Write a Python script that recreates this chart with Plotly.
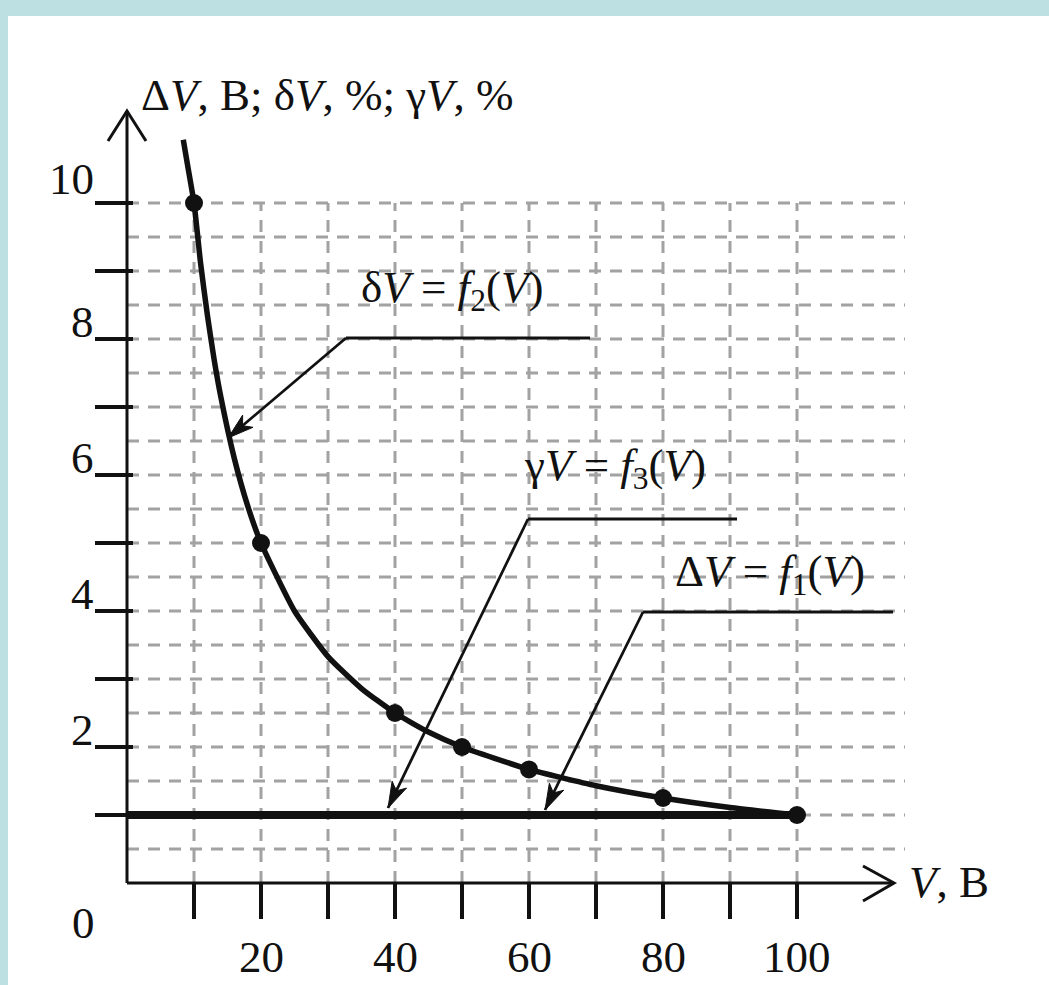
import math
import plotly.graph_objects as go

# ---------------- data ----------------
V_curve = [8.4, 9, 10, 11, 12, 13, 14, 16, 18, 20, 25, 30, 35, 40, 45, 50, 60, 70, 80, 90, 100]
delta_V = [10.93, 10.58, 10.0, 9.1, 8.35, 7.7, 7.15, 6.25, 5.55, 5.0, 4.0, 3.33, 2.86, 2.5,
           2.22, 2.0, 1.67, 1.43, 1.25, 1.11, 1.0]
V_points = [10, 20, 40, 50, 60, 80, 100]
delta_points = [10, 5, 2.5, 2, 1.67, 1.25, 1]
V_const = [0, 100]
abs_dV = [1, 1]      # ΔV = f1(V)
gamma_V = [1, 1]     # γV = f3(V)

x_ticks = [10, 20, 30, 40, 50, 60, 70, 80, 90, 100]
x_tick_labels = ["", "20", "", "40", "", "60", "", "80", "", "100"]
y_ticks = [1, 2, 3, 4, 5, 6, 7, 8, 9, 10]
y_tick_labels = ["", "2", "", "4", "", "6", "", "8", "", "10"]
x_grid = [10, 20, 30, 40, 50, 60, 70, 80, 90, 100]
y_grid = [0.5 * k for k in range(1, 21)]

# ---------------- geometry helpers (pixel -> data for decorations) ----------------
X0_PX, X_SCALE = 127.0, 6.7
Y0_PX, Y_SCALE = 883.0, 68.0
L_M, T_M = 8, 16
W, H = 1049, 985


def px2x(px):
    return (px - X0_PX) / X_SCALE


def py2y(py):
    return (Y0_PX - py) / Y_SCALE


def arrow_path(tip, frm, length=26.0, half=8.0, notch=7.0):
    ux, uy = tip[0] - frm[0], tip[1] - frm[1]
    n = math.hypot(ux, uy)
    ux, uy = ux / n, uy / n
    nx, ny = -uy, ux
    bx, by = tip[0] - ux * length, tip[1] - uy * length
    mx, my = tip[0] - ux * (length - notch), tip[1] - uy * (length - notch)
    pts = [tip, (bx + nx * half, by + ny * half), (mx, my), (bx - nx * half, by - ny * half)]
    s = " L ".join(f"{px2x(p[0])},{py2y(p[1])}" for p in pts)
    return "M " + s + " Z"


FONT = "Liberation Serif, Times New Roman, serif"
BLACK = "#111111"
GRID = "#a2a2a2"

fig = go.Figure()

# curves
fig.add_trace(go.Scatter(x=V_const, y=gamma_V, mode="lines",
                         line=dict(color=BLACK, width=8), hoverinfo="skip", showlegend=False))
fig.add_trace(go.Scatter(x=V_const, y=abs_dV, mode="lines",
                         line=dict(color=BLACK, width=8), hoverinfo="skip", showlegend=False))
fig.add_trace(go.Scatter(x=V_curve, y=delta_V, mode="lines",
                         line=dict(color=BLACK, width=5.5, shape="spline", smoothing=0.5),
                         hoverinfo="skip", showlegend=False))
fig.add_trace(go.Scatter(x=V_points, y=delta_points, mode="markers",
                         marker=dict(color=BLACK, size=18), hoverinfo="skip", showlegend=False,
                         cliponaxis=False))

shapes = []
# grid
x_right = px2x(905)
for gy in y_grid:
    shapes.append(dict(type="line", x0=0, x1=x_right, y0=gy, y1=gy, layer="below",
                       line=dict(color=GRID, width=3, dash="12px,9px")))
for gx in x_grid:
    shapes.append(dict(type="line", x0=gx, x1=gx, y0=0, y1=10, layer="below",
                       line=dict(color=GRID, width=3, dash="12px,9px")))

# axes
y_tip = py2y(111)
x_tip = px2x(894)
shapes.append(dict(type="line", x0=0, x1=0, y0=0, y1=y_tip, line=dict(color=BLACK, width=3)))
shapes.append(dict(type="line", x0=0, x1=x_tip, y0=0, y1=0, line=dict(color=BLACK, width=3)))
# open arrow heads
shapes.append(dict(type="path",
                   path=f"M {px2x(108)},{py2y(141)} L 0,{y_tip} L {px2x(146)},{py2y(141)}",
                   line=dict(color=BLACK, width=3)))
shapes.append(dict(type="path",
                   path=f"M {px2x(863)},{py2y(866)} L {x_tip},0 L {px2x(863)},{py2y(901)}",
                   line=dict(color=BLACK, width=3)))

# ticks
for ty in y_ticks:
    shapes.append(dict(type="line", x0=px2x(95), x1=px2x(133), y0=ty, y1=ty,
                       line=dict(color=BLACK, width=4)))
for tx in x_ticks:
    shapes.append(dict(type="line", x0=tx, x1=tx, y0=0, y1=py2y(919),
                       line=dict(color=BLACK, width=4)))

# leader lines with barbed arrow heads
leaders = [((590, 338), (346, 338), (228, 438)),
           ((737, 519), (528, 519), (388, 808)),
           ((893, 612), (643, 612), (545, 810))]
for (a, b, c) in leaders:
    shapes.append(dict(type="line", x0=px2x(a[0]), x1=px2x(b[0]), y0=py2y(a[1]), y1=py2y(b[1]),
                       line=dict(color=BLACK, width=3)))
    shapes.append(dict(type="line", x0=px2x(b[0]), x1=px2x(c[0]), y0=py2y(b[1]), y1=py2y(c[1]),
                       line=dict(color=BLACK, width=2.8)))
    shapes.append(dict(type="path", path=arrow_path(c, b), fillcolor=BLACK,
                       line=dict(color=BLACK, width=1)))

annotations = []
label_font = dict(family=FONT, size=45, color=BLACK)
# y tick labels
for ty, lab in zip(y_ticks, y_tick_labels):
    if lab:
        annotations.append(dict(x=px2x(96), y=ty, xref="x", yref="y", text=lab,
                                xanchor="right", yanchor="middle", showarrow=False,
                                yshift=24 if lab == "10" else 17, font=label_font))
# x tick labels
for tx, lab in zip(x_ticks, x_tick_labels):
    if lab:
        annotations.append(dict(x=tx, y=py2y(984), xref="x", yref="y", text=lab,
                                xanchor="center", yanchor="bottom", showarrow=False,
                                font=label_font))
annotations.append(dict(x=px2x(83), y=py2y(923), xref="x", yref="y", text="0",
                        xanchor="center", yanchor="middle", showarrow=False, font=label_font))

# axis titles
annotations.append(dict(x=px2x(139), y=py2y(95), xref="x", yref="y",
                        text="Δ<i>V</i>, B; δ<i>V</i>, %; γ<i>V</i>, %",
                        xanchor="left", yanchor="middle", showarrow=False, font=label_font))
annotations.append(dict(x=px2x(907), y=py2y(882), xref="x", yref="y",
                        text="<i>V</i>, B", xanchor="left", yanchor="middle",
                        showarrow=False, font=label_font))

# curve labels
annotations.append(dict(x=px2x(452), y=py2y(290), xref="x", yref="y",
                        text="δ<i>V</i> = <i>f</i><sub>2</sub>(<i>V</i>)",
                        xanchor="center", yanchor="middle", showarrow=False, font=label_font))
annotations.append(dict(x=px2x(615), y=py2y(468), xref="x", yref="y",
                        text="γ<i>V</i> = <i>f</i><sub>3</sub>(<i>V</i>)",
                        xanchor="center", yanchor="middle", showarrow=False, font=label_font))
annotations.append(dict(x=px2x(770), y=py2y(574), xref="x", yref="y",
                        text="Δ<i>V</i> = <i>f</i><sub>1</sub>(<i>V</i>)",
                        xanchor="center", yanchor="middle", showarrow=False, font=label_font))

x_range = [px2x(L_M), px2x(W)]
y_range = [py2y(H), py2y(T_M)]

fig.update_layout(
    width=W, height=H,
    margin=dict(l=L_M, r=0, t=T_M, b=0, pad=0),
    paper_bgcolor="#BDE0E3",
    plot_bgcolor="white",
    xaxis=dict(range=x_range, visible=False, fixedrange=True),
    yaxis=dict(range=y_range, visible=False, fixedrange=True),
    shapes=shapes,
    annotations=annotations,
    showlegend=False,
)

fig.write_html("out.html", config={"displayModeBar": False},
               post_script="document.body.style.margin='0';document.body.style.overflow='hidden';")
